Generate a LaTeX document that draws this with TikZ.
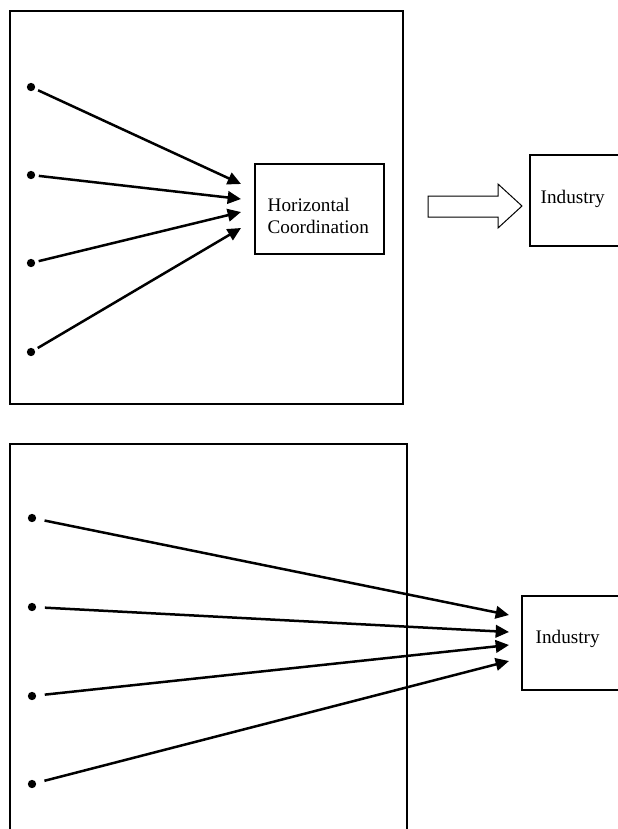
\documentclass[tikz,border=0pt]{standalone}
\usepackage{fontspec}
\setmainfont{Liberation Serif}
\usetikzlibrary{arrows.meta}

\tikzset{
  dot/.style={circle,fill=black,inner sep=0pt,minimum size=5pt},
  conn/.style={line width=1.5pt,-{Triangle[length=8pt,width=7.5pt]}},
  box/.style={draw,line width=0.75pt,inner sep=0pt},
  lbl/.style={anchor=west,align=left,inner sep=0pt,font=\fontsize{11.5}{13.5}\selectfont}
}

\begin{document}
\begin{tikzpicture}[x=0.6pt,y=-0.6pt]
            \clip (0,0) rectangle (618,829);

            \draw[line width=0.75pt] (10,11) rectangle (403,404);

            \node[box,minimum width=77.4pt,minimum height=54pt] (hc) at (319.5,209) {};
            \node[lbl] (hctext) at ([xshift=7.8pt,yshift=-4.2pt]hc.west) {Horizontal\\Coordination};

            \node[dot] (d1) at (31,87) {};
            \node[dot] (d2) at (31,175) {};
            \node[dot] (d3) at (31,263) {};
            \node[dot] (d4) at (31,352) {};

            \coordinate (t1) at (241,184);
            \coordinate (t2) at (241,199);
            \coordinate (t3) at (241,212);
            \coordinate (t4) at (241,228);

            \draw[conn,shorten <=2pt] (d1)--(t1);
            \draw[conn,shorten <=2pt] (d2)--(t2);
            \draw[conn,shorten <=2pt] (d3)--(t3);
            \draw[conn,shorten <=2pt] (d4)--(t4);

            \draw[line width=0.6pt] (428,196)--(498,196)--(498,184)--(522,206)--(498,228)--(498,217)--(428,217)--cycle;

            \node[box,minimum width=66pt,minimum height=54.6pt] (ind) at (585,200.5) {};
            \node[lbl] (indtext) at ([xshift=6.6pt,yshift=1.2pt]ind.west) {Industry};

            \draw[line width=0.75pt] (10,840) |- (407,444) -- (407,840);

            \node[dot] (e1) at (32,518) {};
            \node[dot] (e2) at (32,607) {};
            \node[dot] (e3) at (32,696) {};
            \node[dot] (e4) at (32,784) {};

            \node[box,minimum width=70.8pt,minimum height=56.4pt] (indb) at (581,643) {};
            \node[lbl] (indbtext) at ([xshift=8.4pt,yshift=2.6pt]indb.west) {Industry};

            \coordinate (u1) at (509,615);
            \coordinate (u2) at (509,632);
            \coordinate (u3) at (509,645);
            \coordinate (u4) at (509,661);

            \draw[conn,shorten <=5pt] (e1)--(u1);
            \draw[conn,shorten <=5pt] (e2)--(u2);
            \draw[conn,shorten <=5pt] (e3)--(u3);
            \draw[conn,shorten <=5pt] (e4)--(u4);
\end{tikzpicture}
\end{document}
